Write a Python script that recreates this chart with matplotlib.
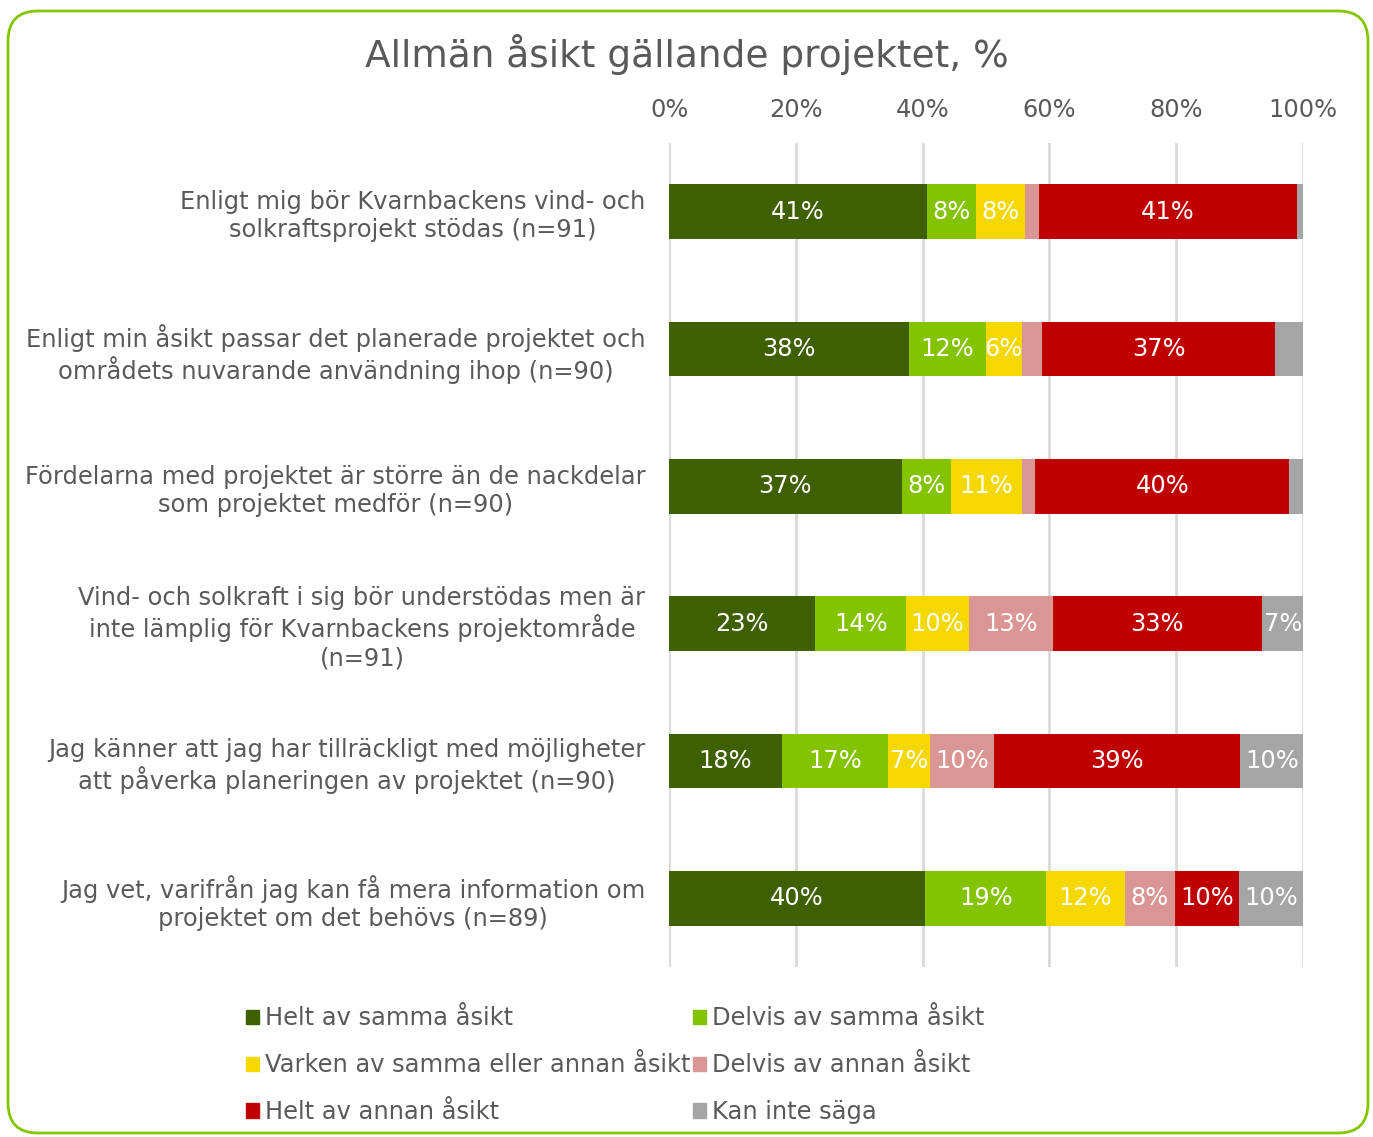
import numpy as np
from matplotlib import pyplot as plt
from matplotlib.patches import FancyBboxPatch, Patch

categories = [
    "Enligt mig bör Kvarnbackens vind- och\nsolkraftsprojekt stödas (n=91)",
    "Enligt min åsikt passar det planerade projektet och\nområdets nuvarande användning ihop (n=90)",
    "Fördelarna med projektet är större än de nackdelar\nsom projektet medför (n=90)",
    "Vind- och solkraft i sig bör understödas men är\ninte lämplig för Kvarnbackens projektområde\n(n=91)",
    "Jag känner att jag har tillräckligt med möjligheter\natt påverka planeringen av projektet (n=90)",
    "Jag vet, varifrån jag kan få mera information om\nprojektet om det behövs (n=89)",
]
series = [
    "Helt av samma åsikt",
    "Delvis av samma åsikt",
    "Varken av samma eller annan åsikt",
    "Delvis av annan åsikt",
    "Helt av annan åsikt",
    "Kan inte säga",
]
helt_samma = [40.7, 37.8, 36.7, 23.1, 17.8, 40.4]
delvis_samma = [7.7, 12.2, 7.8, 14.3, 16.7, 19.1]
varken = [7.7, 5.6, 11.1, 9.9, 6.7, 12.4]
delvis_annan = [2.2, 3.3, 2.2, 13.2, 10.0, 7.9]
helt_annan = [40.7, 36.7, 40.0, 33.0, 38.9, 10.1]
kan_inte = [1.1, 4.4, 2.2, 6.6, 10.0, 10.1]
colors = ["#3f6000", "#83c300", "#f5d800", "#da9694", "#c00000", "#a5a5a5"]
ticks = [0, 20, 40, 60, 80, 100]

txt = "#595959"
fs = 17.4
fig = plt.figure(figsize=(13.73, 11.37), dpi=100)
ax = fig.add_axes([0.4873, 0.1495, 0.4617, 0.7247])

data = [helt_samma, delvis_samma, varken, delvis_annan, helt_annan, kan_inte]
y = np.arange(len(categories))
left = np.zeros(len(categories))
for vals, col, name in zip(data, colors, series):
    vals = np.array(vals)
    ax.barh(y, vals, left=left, height=0.4, color=col, label=name, zorder=3)
    for yi, (l, v) in enumerate(zip(left, vals)):
        if v >= 5:
            ax.text(l + v / 2, yi, f"{v:.0f}%", ha="center", va="center",
                    color="white", fontsize=fs, zorder=4)
    left += vals

ax.set_xlim(0, 100)
ax.set_ylim(len(categories) - 0.5, -0.5)
ax.set_xticks(ticks)
ax.set_xticklabels([f"{t}%" for t in ticks], fontsize=fs, color=txt)
ax.xaxis.tick_top()
ax.tick_params(axis="x", length=0, pad=15)
ax.set_yticks(y)
ax.set_yticklabels(categories, fontsize=fs, color=txt, multialignment="center")
ax.tick_params(axis="y", length=0, pad=17)
ax.grid(axis="x", color="#d9d9d9", linewidth=2, zorder=0)
for s in ax.spines.values():
    s.set_visible(False)

fig.text(0.5, 0.952, "Allmän åsikt gällande projektet, %", ha="center", va="center",
         fontsize=27, color=txt)

order = [0, 2, 4, 1, 3, 5]
handles = [Patch(color=colors[i]) for i in order]
labels = [series[i] for i in order]
fig.legend(handles, labels, ncol=2, loc="center left", bbox_to_anchor=(0.163, 0.063),
           frameon=False, fontsize=fs, labelcolor=txt, handlelength=0.55,
           handleheight=0.55, handletextpad=0.25, columnspacing=0.1, labelspacing=0.95)

border = FancyBboxPatch((8, 4), 1360, 1122, boxstyle="round,pad=0,rounding_size=30",
                        transform=None, fill=False, edgecolor="#84c600", linewidth=2)
fig.patches.append(border)

fig.savefig("out.png", dpi=100)
